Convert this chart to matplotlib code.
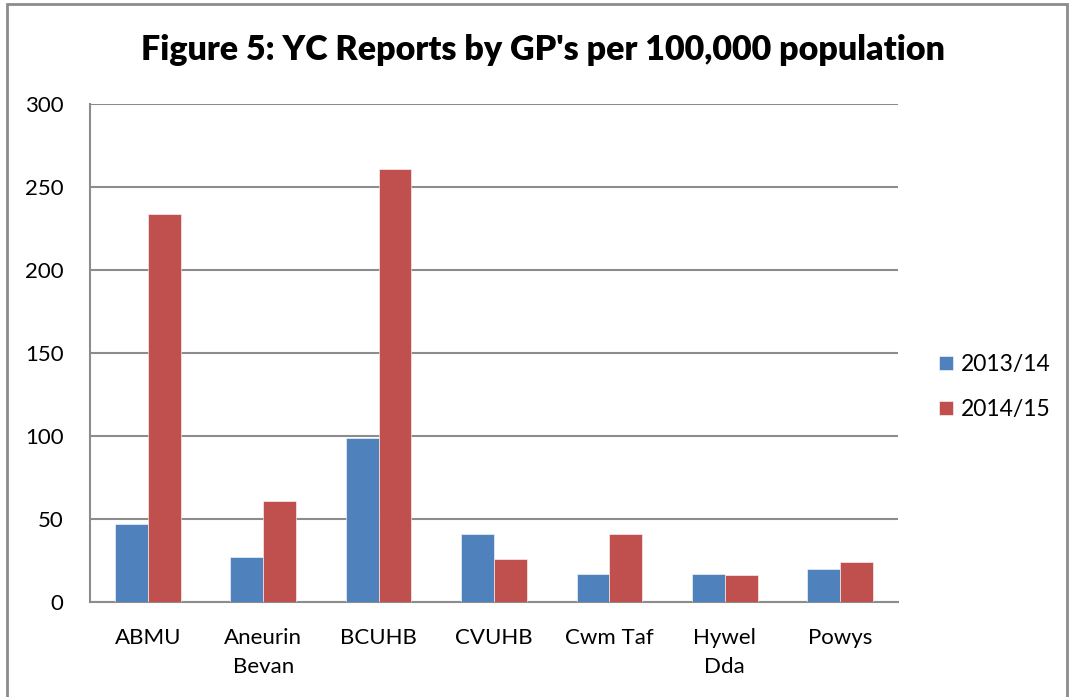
import matplotlib
matplotlib.use('Agg')
import matplotlib.pyplot as plt
from matplotlib.patches import Rectangle
import numpy as np

plt.rcParams['font.family'] = ['Lato', 'DejaVu Sans']

# Dados do gráfico
regioes = ['ABMU', 'Aneurin\nBevan', 'BCUHB', 'CVUHB', 'Cwm Taf', 'Hywel\nDda', 'Powys']
v_2013 = [47, 27, 99, 41, 17, 17, 20]
v_2014 = [234, 61, 261, 26, 41, 16, 24]
series = ['2013/14', '2014/15']
cores = ['#4f81bd', '#c0504d']

fig = plt.figure(figsize=(10.70, 6.97), dpi=100)
ax = fig.add_axes([90 / 1070, 95 / 697, 808 / 1070, 498 / 697])

x = np.arange(len(regioes))
w = 0.285
ax.bar(x - w / 2, v_2013, w, color=cores[0], label=series[0], edgecolor='white', linewidth=0.4, zorder=3)
ax.bar(x + w / 2, v_2014, w, color=cores[1], label=series[1], edgecolor='white', linewidth=0.4, zorder=3)

ax.set_xlim(-0.5, len(regioes) - 0.5)
ax.set_ylim(0, 300)
ax.set_yticks(range(0, 301, 50))
ax.set_xticks(x)
ax.set_xticklabels(regioes, fontsize=16, linespacing=1.55)
ax.tick_params(axis='y', labelsize=16, length=0, pad=19)
ax.tick_params(axis='x', length=0, pad=19)
ax.grid(axis='y', color='#8c8c8c', linewidth=1.5, zorder=0)
for s in ['top', 'right']:
    ax.spines[s].set_visible(False)
for s in ['left', 'bottom']:
    ax.spines[s].set_color('#8c8c8c')
    ax.spines[s].set_linewidth(1.5)

fig.text(543 / 1070, 1 - 50 / 697, "Figure 5: YC Reports by GP's per 100,000 population",
         ha='center', va='center', fontsize=24.5, fontweight='heavy')

ax.legend(loc='center left', bbox_to_anchor=(0.8775, 1 - 387 / 697), bbox_transform=fig.transFigure,
          frameon=False, fontsize=16.5, handlelength=0.6, handleheight=0.6,
          handletextpad=0.35, labelspacing=1.05, borderpad=0, borderaxespad=0)

fig.patches.append(Rectangle((7 / 1070, -0.05), 1060 / 1070, 1.05 - 4 / 697,
                             transform=fig.transFigure, fill=False,
                             edgecolor='#8c8c8c', linewidth=2))

fig.savefig('out.png', dpi=100)
